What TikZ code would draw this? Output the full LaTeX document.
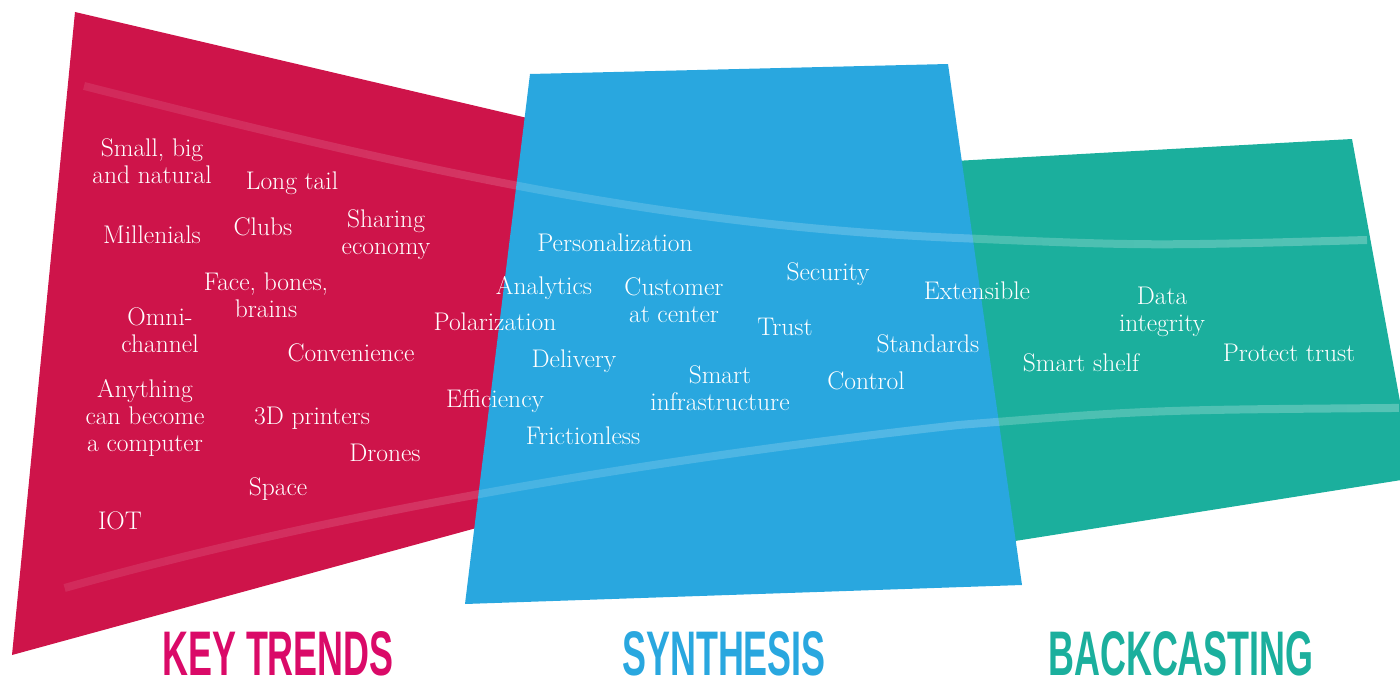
\documentclass[tikz,border=0pt]{standalone}
\usepackage{fontspec}
\usepackage{graphicx}
\usetikzlibrary{fadings}
\newfontfamily\titlefont{Liberation Sans}
\definecolor{T}{RGB}{206,20,74}
\definecolor{S}{RGB}{41,167,223}
\definecolor{B}{RGB}{27,175,157}
\definecolor{K}{RGB}{218,10,104}
\tikzfading[name=bandfade, left color=transparent!70, right color=transparent!15]
\newcommand{\wordnode}[4]{\node[word] (#1) at (#2,#3) {#4};}
\newcommand{\headline}[4]{\node[headtext, text=#2] (#1) at (#3,675) {\scalebox{.57}[1]{#4}};}
\newcommand{\drawband}{\draw[white, opacity=.3, line width=8pt, path fading=bandfade]}

\begin{document}
\begin{tikzpicture}[x=1pt,y=-1pt,
    word/.style={text=white, align=center, inner sep=0pt, font=\fontsize{25.5}{27}\selectfont},
    headtext/.style={anchor=base, inner sep=0pt, font=\titlefont\bfseries\fontsize{63}{63}\selectfont}]
\useasboundingbox (0,0) rectangle (1400,685);
\fill[T] (75,12)--(540,121)--(480,527)--(12,655)--cycle;
\fill[B] (955,161)--(1352,139)--(1414,478)--(1015,541)--cycle;
\fill[S] (530,74)--(948,64)--(1022,585)--(465,604)--cycle;
\drawband (85,86) .. controls (400,165) and (650,225) .. (960,238) .. controls (1150,246) .. (1370,240);
\drawband (65,588) .. controls (300,522) and (600,465) .. (960,425) .. controls (1150,410) .. (1400,408);
% key trends
\wordnode{smallbig}{152}{161}{Small, big\\and natural}
\wordnode{longtail}{292}{183}{Long tail}
\wordnode{millenials}{152}{235}{Millenials}
\wordnode{clubs}{263}{227}{Clubs}
\wordnode{sharing}{386}{235}{Sharing\\economy}
\wordnode{face}{266}{295}{Face, bones,\\brains}
\wordnode{omni}{160}{330}{Omni-\\channel}
\wordnode{convenience}{351}{353}{Convenience}
\wordnode{polarization}{495}{322}{Polarization}
\wordnode{anything}{145}{418}{Anything\\can become\\a computer}
\wordnode{printers}{312}{418}{3D printers}
\wordnode{drones}{385}{453}{Drones}
\wordnode{efficiency}{495}{401}{Efficiency}
\wordnode{space}{278}{489}{Space}
\wordnode{iot}{120}{521}{IOT}
% synthesis
\wordnode{personal}{615}{243}{Personalization}
\wordnode{analytics}{544}{288}{Analytics}
\wordnode{customer}{674}{300}{Customer\\at center}
\wordnode{security}{828}{274}{Security}
\wordnode{trust}{785}{327}{Trust}
\wordnode{extensible}{977}{291}{Extensible}
\wordnode{standards}{928}{344}{Standards}
\wordnode{delivery}{574}{361}{Delivery}
\wordnode{smartinfra}{720}{388}{Smart\\infrastructure}
\wordnode{control}{866}{381}{Control}
\wordnode{frictionless}{583}{436}{Frictionless}
% backcasting
\wordnode{data}{1162}{312}{Data\\integrity}
\wordnode{shelf}{1081}{363}{Smart shelf}
\wordnode{protect}{1289}{353}{Protect trust}
\headline{keytrends}{K}{278}{KEY TRENDS}
\headline{synthesis}{S}{724}{SYNTHESIS}
\headline{backcasting}{B}{1181}{BACKCASTING}
\end{tikzpicture}
\end{document}
